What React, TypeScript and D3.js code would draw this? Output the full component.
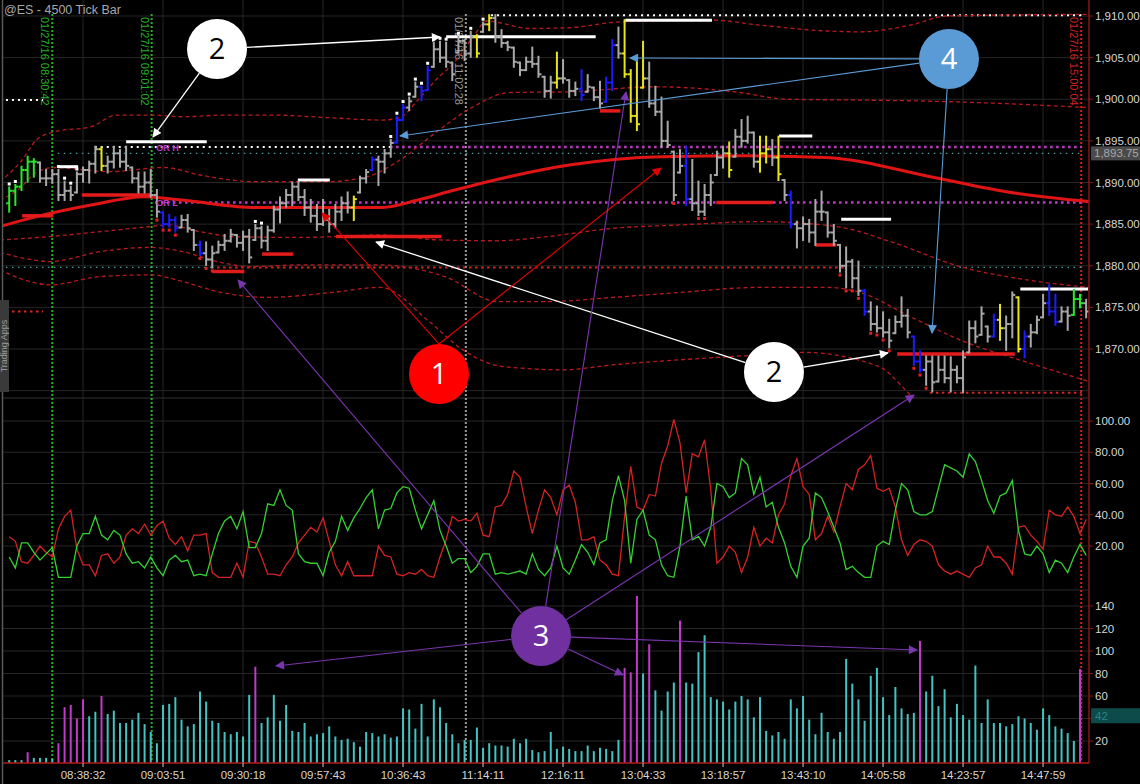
import React from "react";
import * as d3 from "d3";

// ---------- price bars (4500 tick bars) ----------
const barHigh = [
  1889.4, 1889.7, 1891.9, 1893.1, 1892.8, 1892.4, 1891.5, 1891.5, 1891.5, 1890.1,
  1889.5, 1891.2, 1891.8, 1892.5, 1894.3, 1894.2, 1893.1, 1894.3, 1893.9, 1894.3,
  1891.8, 1891.2, 1891.2, 1891.5, 1889.1, 1886.4, 1886.1, 1885.8, 1886.0, 1886.1,
  1884.3, 1882.9, 1882.8, 1882.3, 1882.9, 1883.7, 1884.3, 1883.7, 1884.1, 1884.3,
  1884.9, 1884.7, 1884.7, 1887.1, 1888.2, 1889.1, 1890.0, 1890.1, 1889.1, 1887.9,
  1887.3, 1887.9, 1886.7, 1887.3, 1888.2, 1888.8, 1888.3, 1890.7, 1891.5, 1893.0,
  1893.1, 1893.9, 1895.1, 1897.9, 1899.3, 1900.2, 1902.0, 1901.5, 1903.9, 1906.8,
  1906.9, 1906.8, 1904.4, 1907.5, 1907.1, 1908.1, 1907.7, 1909.2, 1910.1, 1910.1,
  1908.3, 1906.9, 1906.2, 1904.4, 1905.0, 1906.2, 1905.1, 1902.7, 1902.7, 1905.6,
  1904.7, 1902.3, 1902.0, 1903.5, 1902.9, 1901.4, 1902.1, 1902.6, 1907.1, 1908.6,
  1909.5, 1903.5, 1904.7, 1906.9, 1904.4, 1901.5, 1900.2, 1897.3, 1893.7, 1893.9,
  1894.3, 1892.7, 1890.1, 1889.7, 1890.9, 1893.7, 1894.3, 1894.8, 1896.3, 1897.5,
  1897.9, 1896.0, 1895.5, 1895.5, 1895.1, 1895.5, 1890.3, 1888.9, 1885.3, 1885.8,
  1885.5, 1887.9, 1888.9, 1886.4, 1884.9, 1882.5, 1882.2, 1880.7, 1880.5, 1877.1,
  1875.6, 1875.1, 1874.4, 1873.5, 1873.9, 1876.2, 1874.7, 1871.5, 1869.7, 1869.1,
  1869.1, 1869.1, 1869.1, 1869.0, 1867.9, 1869.7, 1873.3, 1873.3, 1875.0, 1872.7,
  1874.1, 1875.3, 1873.9, 1876.8, 1876.2, 1872.1, 1872.9, 1873.9, 1876.5, 1877.7,
  1876.5, 1875.0, 1875.0, 1877.1, 1876.5, 1875.9,
];
const barLow = [
  1886.5, 1887.3, 1889.1, 1890.1, 1890.7, 1890.1, 1889.7, 1890.0, 1887.9, 1887.9,
  1887.9, 1888.8, 1890.1, 1890.0, 1891.2, 1891.5, 1891.2, 1891.8, 1891.9, 1891.5,
  1890.0, 1888.8, 1888.8, 1888.3, 1885.9, 1884.7, 1884.7, 1884.1, 1884.6, 1884.1,
  1881.9, 1881.3, 1880.1, 1879.8, 1881.6, 1881.9, 1882.9, 1882.3, 1881.9, 1880.4,
  1883.1, 1882.2, 1881.9, 1884.1, 1885.2, 1887.1, 1887.3, 1887.9, 1886.1, 1885.3,
  1884.3, 1884.9, 1884.1, 1884.6, 1885.5, 1886.4, 1885.5, 1888.8, 1890.0, 1891.5,
  1889.7, 1891.2, 1893.1, 1894.8, 1897.5, 1898.7, 1900.3, 1899.9, 1901.1, 1903.9,
  1904.5, 1903.9, 1902.3, 1905.6, 1904.7, 1905.1, 1905.1, 1908.1, 1908.3, 1906.9,
  1906.3, 1905.9, 1903.9, 1902.9, 1903.5, 1903.9, 1902.7, 1900.3, 1900.2, 1901.4,
  1902.0, 1900.3, 1900.5, 1899.9, 1900.9, 1899.9, 1899.0, 1899.7, 1901.1, 1905.0,
  1902.7, 1897.3, 1896.3, 1901.4, 1899.1, 1898.1, 1894.3, 1894.3, 1887.9, 1891.2,
  1887.3, 1886.7, 1886.1, 1886.1, 1887.3, 1890.9, 1891.8, 1890.7, 1893.1, 1894.3,
  1894.8, 1891.9, 1891.3, 1892.4, 1892.1, 1890.3, 1887.9, 1884.6, 1882.2, 1883.1,
  1882.9, 1882.5, 1885.5, 1883.5, 1882.5, 1879.3, 1877.4, 1877.4, 1876.5, 1874.1,
  1872.3, 1872.1, 1871.5, 1870.2, 1871.9, 1872.7, 1871.4, 1868.1, 1867.3, 1865.7,
  1864.9, 1866.1, 1866.0, 1864.9, 1866.0, 1864.8, 1869.6, 1870.8, 1871.7, 1870.9,
  1871.5, 1871.1, 1869.9, 1871.4, 1869.7, 1869.0, 1870.3, 1871.9, 1873.8, 1874.1,
  1872.9, 1873.3, 1872.3, 1874.1, 1875.0, 1873.8,
];
const barClose = [
  1889.0, 1889.5, 1891.5, 1892.5, 1892.5, 1890.5, 1890.5, 1891.0, 1888.5, 1889.0,
  1888.5, 1891.0, 1891.5, 1892.25, 1894.0, 1892.0, 1892.5, 1893.5, 1892.5, 1892.0,
  1890.5, 1889.5, 1890.0, 1888.5, 1886.5, 1885.0, 1885.5, 1884.5, 1885.5, 1884.5,
  1882.5, 1881.5, 1880.75, 1881.5, 1882.5, 1883.0, 1883.75, 1882.75, 1883.5, 1881.0,
  1884.5, 1883.0, 1884.25, 1886.75, 1887.5, 1888.5, 1889.5, 1888.25, 1887.0, 1886.0,
  1885.0, 1885.5, 1885.0, 1886.5, 1887.5, 1887.0, 1888.0, 1890.5, 1891.25, 1892.75,
  1892.5, 1893.5, 1894.75, 1897.5, 1899.0, 1899.75, 1901.5, 1901.0, 1903.5, 1906.0,
  1905.0, 1904.5, 1903.0, 1907.0, 1905.5, 1907.5, 1905.5, 1909.0, 1909.75, 1907.5,
  1906.75, 1906.25, 1904.5, 1903.5, 1904.5, 1904.25, 1903.0, 1901.0, 1902.0, 1902.5,
  1902.5, 1901.0, 1901.25, 1900.5, 1901.5, 1900.25, 1899.5, 1902.0, 1906.5, 1905.5,
  1903.0, 1898.0, 1897.0, 1902.5, 1899.5, 1898.5, 1895.0, 1894.5, 1888.5, 1892.0,
  1888.0, 1887.5, 1886.5, 1888.5, 1890.0, 1893.0, 1893.5, 1891.5, 1895.5, 1895.0,
  1896.0, 1892.5, 1893.5, 1894.0, 1893.0, 1891.0, 1888.5, 1885.0, 1884.5, 1885.0,
  1884.0, 1886.5, 1886.5, 1884.0, 1883.0, 1880.0, 1880.5, 1878.5, 1877.0, 1874.5,
  1873.0, 1872.5, 1872.0, 1871.0, 1873.25, 1874.0, 1872.0, 1868.5, 1867.5, 1868.5,
  1866.0, 1867.5, 1866.5, 1867.5, 1866.5, 1869.0, 1872.5, 1871.5, 1874.25, 1871.5,
  1873.5, 1872.5, 1873.0, 1876.5, 1870.0, 1871.5, 1872.0, 1873.5, 1875.5, 1874.5,
  1873.25, 1874.5, 1874.0, 1876.0, 1875.5, 1874.5,
];
const firstOpen = 1887.5;
const greenBars = [0, 1, 2, 3, 4, 173, 174];
const yellowBars = [15, 56, 76, 78, 89, 100, 101, 102, 103, 117, 122, 123, 125, 161, 164];
const blueBars = [25, 26, 27, 31, 59, 63, 64, 67, 68, 93, 97, 98, 110, 127, 139, 147, 148, 160, 165, 169, 170];
const whiteDotBars = [0, 1, 8, 9, 10, 11, 40, 41, 62, 63, 64, 65, 66, 67, 68, 69, 70, 71, 73, 75, 77];
const redDotBars = [24, 25, 26, 27, 31, 32, 33, 108, 112, 113, 135, 136, 137, 138, 140, 141, 142, 143, 147, 148, 149];

// ---------- oscillator ----------
const oscGreen = [
  13, 6, 22, 22, 16, 11, 15, 19, 0, 0,
  0, 20, 28, 28, 39, 27, 24, 30, 27, 15,
  9, 10, 6, 13, 6, 1, 11, 14, 10, 11,
  1, 2, 1, 15, 28, 36, 39, 31, 42, 19,
  19, 28, 47, 46, 56, 46, 43, 15, 10, 9,
  9, 1, 16, 23, 39, 30, 38, 44, 51, 56,
  31, 43, 44, 54, 58, 57, 43, 31, 40, 49,
  30, 20, 9, 12, 12, 3, 7, 15, 15, 2,
  3, 2, 3, 4, 2, 15, 5, 1, 6, 20,
  6, 2, 11, 21, 16, 8, 22, 24, 49, 65,
  49, 9, 37, 43, 27, 24, 8, 1, 0, 20,
  52, 24, 26, 20, 32, 60, 58, 51, 54, 76,
  72, 53, 64, 45, 48, 32, 22, 7, 0, 20,
  25, 54, 51, 42, 32, 22, 5, 7, 3, 0,
  0, 20, 23, 21, 43, 60, 56, 42, 40, 40,
  42, 57, 72, 70, 68, 64, 79, 74, 62, 49,
  41, 52, 54, 62, 30, 15, 14, 20, 15, 3,
  11, 9, 3, 13, 21, 14,
];
const oscRed = [
  26, 23, 10, 9, 14, 20, 16, 13, 31, 39,
  43, 18, 8, 8, 1, 14, 15, 9, 13, 27,
  31, 28, 34, 27, 33, 36, 25, 21, 26, 17,
  27, 27, 28, 3, 0, 0, 0, 9, 0, 23,
  22, 13, 2, 2, 1, 8, 13, 22, 27, 32,
  29, 38, 23, 8, 1, 10, 1, 1, 1, 1,
  20, 14, 13, 2, 1, 3, 2, 5, 1, 0,
  13, 24, 39, 36, 37, 36, 41, 27, 26, 45,
  46, 53, 68, 64, 45, 28, 43, 56, 51, 40,
  56, 59, 48, 24, 24, 26, 11, 8, 2, 1,
  39, 71, 45, 43, 53, 52, 73, 84, 101, 86,
  54, 79, 77, 88, 56, 9, 13, 20, 16, 3,
  13, 32, 20, 25, 22, 40, 47, 65, 76, 58,
  53, 24, 28, 39, 29, 45, 60, 56, 69, 72,
  78, 57, 55, 57, 45, 24, 14, 21, 24, 23,
  20, 8, 4, 2, 4, 2, 0, 6, 8, 20,
  13, 13, 9, 2, 32, 33, 27, 23, 18, 43,
  40, 39, 45, 39, 28, 37,
];

// ---------- volume ----------
const volume = [
  3, 3, 3, 10, 5, 5, 5, 4, 18, 50,
  52, 40, 57, 42, 46, 60, 44, 47, 36, 36,
  39, 45, 35, 28, 18, 52, 53, 59, 39, 33,
  35, 64, 55, 38, 36, 28, 26, 28, 24, 61,
  86, 36, 41, 61, 38, 52, 29, 28, 36, 24,
  26, 27, 33, 24, 21, 22, 19, 15, 28, 27,
  24, 26, 23, 24, 49, 48, 31, 53, 24, 57,
  50, 36, 26, 18, 21, 21, 32, 14, 18, 16,
  16, 15, 22, 18, 22, 12, 10, 11, 28, 13,
  15, 13, 11, 11, 16, 11, 14, 13, 11, 21,
  85, 81, 149, 80, 106, 65, 47, 64, 72, 127,
  72, 71, 99, 114, 59, 57, 55, 48, 55, 60,
  57, 41, 59, 29, 25, 28, 22, 57, 49, 60,
  39, 26, 45, 28, 22, 28, 93, 71, 57, 38,
  78, 85, 59, 43, 68, 49, 44, 45, 109, 64,
  78, 51, 66, 41, 53, 43, 39, 87, 36, 57,
  36, 36, 33, 35, 42, 40, 36, 30, 49, 43,
  33, 31, 27, 20, 84, 0,
];
const magentaVolBars = [3, 8, 9, 10, 11, 12, 15, 40, 100, 101, 102, 104, 109, 148, 174];

// ---------- axes ----------
const timeLabelBars = [12, 25, 38, 51, 64, 77, 90, 103, 116, 129, 142, 155, 168];
const timeLabels = ["08:38:32", "09:03:51", "09:30:18", "09:57:43", "10:36:43", "11:14:11", "12:16:11", "13:04:33", "13:18:57", "13:43:10", "14:05:58", "14:23:57", "14:47:59"];
const priceTicks = [1870, 1875, 1880, 1885, 1890, 1895, 1900, 1905, 1910];
const oscTicks = [20, 40, 60, 80, 100];
const volTicks = [20, 40, 60, 80, 100, 120, 140];
const lastPrice = 1893.75;
const lastPriceLevel = 1893.5;
const lastVolume = 42;

// ---------- indicator bands: [bar index, price] ----------
const maLine = [[-1.5, 1884.7], [4.4, 1885.9], [13.3, 1887.3], [22, 1888.3], [28, 1887.9], [40, 1887.0], [51.6, 1887.0], [60.6, 1887.0], [66.4, 1887.9], [72.4, 1889.1], [81.2, 1890.7], [91, 1892.1], [106, 1893.1], [120, 1893.2], [132.6, 1893.0], [150.3, 1890.6], [162, 1888.9], [175.5, 1887.7]];
const bandUpperOuter = [[-1.5, 1890.1], [2.1, 1892.7], [4.4, 1895.1], [7.4, 1896.1], [13.3, 1896.7], [17.4, 1898.1], [23.4, 1898.1], [28.1, 1897.9], [35.1, 1898.1], [42.9, 1898.1], [51.6, 1897.8], [60.6, 1897.5], [63.5, 1897.8], [66.4, 1899.9], [69.3, 1902.3], [72.4, 1904.5], [75.4, 1907.5], [77.6, 1909.4], [84.6, 1908.5], [91.1, 1908.6], [99.3, 1909.3], [114.4, 1909.5], [122, 1908.9], [132.9, 1908.2], [138.2, 1908.1], [146.4, 1908.9], [152.4, 1910.0], [175.5, 1910.2]];
const bandUpperInner = [[-1.5, 1887.9], [1.4, 1889.1], [4.4, 1891.2], [7.4, 1891.8], [16.2, 1891.3], [25.2, 1891.8], [31, 1890.9], [39.9, 1890.1], [51.6, 1890.1], [57.7, 1890.6], [63.5, 1892.7], [69.3, 1896.0], [75.4, 1899.1], [81.2, 1900.8], [91.1, 1900.9], [104.8, 1901.5], [117.8, 1900.9], [126.5, 1900.0], [138.4, 1899.9], [153.2, 1899.7], [175.5, 1899.0]];
const bandLower1 = [[-1.5, 1883.1], [6.6, 1883.5], [14.8, 1884.1], [22.9, 1884.7], [25.6, 1884.9], [31, 1884.1], [36.4, 1883.5], [47.3, 1883.4], [60.3, 1883.7], [70, 1883.1], [79.3, 1883.0], [87.4, 1883.5], [98.1, 1884.5], [109, 1884.9], [122, 1885.3], [134.5, 1884.7], [143.6, 1882.8], [154.5, 1879.9], [165.4, 1878.3], [175.5, 1877.4]];
const bandLower2 = [[-1.5, 1881.6], [3.9, 1880.7], [6.6, 1880.5], [14.8, 1881.7], [22.9, 1882.2], [28.2, 1881.7], [33.8, 1880.5], [39.1, 1879.9], [47.3, 1880.1], [60.3, 1880.1], [71.1, 1878.6], [79.3, 1875.7], [87.4, 1875.7], [98.1, 1876.2], [109, 1876.8], [122, 1877.4], [132.9, 1877.4], [138.2, 1876.8], [146.4, 1873.9], [154.5, 1871.1], [165.4, 1868.4], [175.5, 1866.1]];
const bandLower3 = [[-1.5, 1879.5], [3.9, 1878.0], [6.6, 1877.7], [14.8, 1878.7], [22.9, 1878.9], [28.2, 1878.1], [33.8, 1876.9], [41.9, 1876.2], [52.6, 1876.8], [60.3, 1877.4], [68.4, 1873.2], [73.7, 1869.9], [80.2, 1867.9], [90, 1867.5], [98.1, 1868.1], [109, 1868.7], [122, 1869.3], [129, 1869.6], [141.3, 1867.9], [146.7, 1864.3], [151.3, 1861.5]];

// ---------- horizontal levels: [fromIdx, toIdx, price] ----------
const whiteLevels = [[7.9, 11.2, 1891.9], [19, 32.1, 1894.9], [46.9, 52.1, 1890.3], [71, 95.3, 1907.5], [100.1, 114.2, 1909.5], [125.1, 130.5, 1895.6], [135.2, 143.3, 1885.6], [164.3, 175.3, 1877.2]];
const redLevels = [[2.1, 7.1, 1886.0], [11.8, 22.9, 1888.5], [33, 38.2, 1879.3], [41.1, 46.1, 1881.4], [53.1, 70.2, 1883.5], [96, 99.3, 1898.6], [114.9, 124.1, 1887.6], [131, 134.4, 1882.5], [144.3, 163.4, 1869.4]];
// dotted reference lines: [fromIdx, toIdx, price, kind]
const dottedLevels = [
  [-1.5, 5.5, 1899.9, "white"],
  [13.9, 61.9, 1894.25, "white"],
  [61.9, 174.3, 1894.25, "magenta"],
  [7.9, 174.3, lastPriceLevel, "teal"],
  [23.7, 174.3, 1887.6, "magenta"],
  [-1.5, 32.8, 1879.8, "teal"],
  [32.8, 135.9, 1879.8, "red"],
  [135.9, 174.3, 1879.8, "teal"],
  [-1.5, 5.5, 1874.5, "red"],
  [149.6, 174.3, 1864.75, "red"],
  [78.3, 174.8, 1910.1, "white"],
];
const sessionLines = [
  { idx: 7, color: "#23b023", label: "01/27/16 08:30:42" },
  { idx: 23.15, color: "#23b023", label: "01/27/16 09:01:02" },
  { idx: 74.2, color: "#9a9a9a", label: "01/27/16 11:02:28" },
  { idx: 174.2, color: "#d42020", label: "01/27/16 15:00:04" },
];

// ---------- callouts ----------
const callouts = [
  { id: "2a", label: "2", panel: "p", idx: 33.77, v: 1906.04, fill: "#ffffff", text: "#000000" },
  { id: "2b", label: "2", panel: "p", idx: 124.27, v: 1867.24, fill: "#ffffff", text: "#000000" },
  { id: "1", label: "1", panel: "p", idx: 69.84, v: 1867.0, fill: "#ff0000", text: "#ffffff" },
  { id: "3", label: "3", panel: "v", idx: 86.42, v: 113.3, fill: "#7030a0", text: "#ffffff" },
  { id: "4", label: "4", panel: "p", idx: 152.71, v: 1904.84, fill: "#5b9bd5", text: "#ffffff" },
];
const arrows = [
  { from: "2a", panel: "p", idx: 70.0, v: 1907.48, color: "#ffffff", top: false },
  { from: "2a", panel: "p", idx: 23.37, v: 1895.47, color: "#ffffff", top: false },
  { from: "2b", panel: "p", idx: 59.6, v: 1882.85, color: "#ffffff", top: false },
  { from: "2b", panel: "p", idx: 142.8, v: 1869.52, color: "#ffffff", top: false },
  { from: "1", panel: "p", idx: 50.83, v: 1886.34, color: "#e00000", top: true },
  { from: "1", panel: "p", idx: 105.9, v: 1891.74, color: "#e00000", top: true },
  { from: "3", panel: "p", idx: 37.18, v: 1878.29, color: "#7a35b0", top: false },
  { from: "3", panel: "p", idx: 100.23, v: 1900.87, color: "#7a35b0", top: false },
  { from: "3", panel: "p", idx: 147.03, v: 1864.47, color: "#7a35b0", top: false },
  { from: "3", panel: "v", idx: 43.35, v: 86.7, color: "#7a35b0", top: false },
  { from: "3", panel: "v", idx: 99.74, v: 78.7, color: "#7a35b0", top: false },
  { from: "3", panel: "v", idx: 147.51, v: 100.9, color: "#7a35b0", top: false },
  { from: "4", panel: "p", idx: 100.88, v: 1904.95, color: "#5b9bd5", top: false },
  { from: "4", panel: "p", idx: 63.5, v: 1895.59, color: "#5b9bd5", top: false },
  { from: "4", panel: "p", idx: 149.95, v: 1871.92, color: "#5b9bd5", top: false },
];

const FONT = "'Liberation Sans', Arial, sans-serif";

export default function App() {
  const xs = d3.scaleLinear().domain([0, 175]).range([9.2, 1086.15]);
  const yp = d3.scaleLinear().domain([1870, 1910]).range([349, 16]);
  const yo = d3.scaleLinear().domain([0, 100]).range([577.3, 421]);
  const yv = d3.scaleLinear().domain([0, 140]).range([763.5, 606]);
  const AXIS_X = 1089;
  const PRICE_BOTTOM = 398;
  const OSC_BOTTOM = 590;
  const VOL_BOTTOM = 763;

  const band = d3.line<number[]>().x((d) => xs(d[0])).y((d) => yp(d[1])).curve(d3.curveMonotoneX);
  const oscLine = d3.line<number>().x((_, i) => xs(i)).y((d) => yo(d));

  const colorOf = (i: number) =>
    greenBars.includes(i) ? "#2be62b" : yellowBars.includes(i) ? "#e8e41a" : blueBars.includes(i) ? "#1c1cff" : "#a9a9a9";

  const pos = (panel: string, idx: number, v: number) => [xs(idx), panel === "p" ? yp(v) : panel === "o" ? yo(v) : yv(v)];
  const R = 30;
  const center: Record<string, number[]> = {};
  callouts.forEach((c) => (center[c.id] = pos(c.panel, c.idx, c.v)));

  const dotStyle: Record<string, any> = {
    white: { stroke: "#ffffff", dash: "2,4", w: 2 },
    magenta: { stroke: "#c23ac8", dash: "2.5,3.5", w: 2.5 },
    teal: { stroke: "#4f9a9a", dash: "1.5,4.5", w: 1.2 },
    red: { stroke: "#d42424", dash: "2.5,3.5", w: 2 },
  };
  const markerColors = { w: "#ffffff", r: "#e00000", p: "#7a35b0", b: "#5b9bd5" };
  const markerId = (c: string) => (c === "#ffffff" ? "mw" : c === "#e00000" ? "mr" : c === "#7a35b0" ? "mp" : "mb");

  return (
    <div>
      <style>{"body{margin:0;background:#000;}"}</style>
      <svg width={1140} height={784} style={{ display: "block", background: "#000" }} fontFamily={FONT}>
        <defs>
          <clipPath id="cp"><rect x={3} y={0} width={AXIS_X - 3} height={PRICE_BOTTOM} /></clipPath>
          <clipPath id="co"><rect x={3} y={PRICE_BOTTOM} width={AXIS_X - 3} height={OSC_BOTTOM - PRICE_BOTTOM} /></clipPath>
          <clipPath id="cv"><rect x={3} y={OSC_BOTTOM} width={AXIS_X - 3} height={VOL_BOTTOM - OSC_BOTTOM} /></clipPath>
          {Object.entries(markerColors).map(([k, c]) => (
            <marker key={k} id={"m" + k} viewBox="0 0 10 10" refX={9} refY={5} markerWidth={11} markerHeight={9} orient="auto" markerUnits="userSpaceOnUse">
              <path d="M0,0 L10,5 L0,10 z" fill={c} />
            </marker>
          ))}
        </defs>
        <rect x={0} y={0} width={1140} height={784} fill="#000" />

        {/* grid */}
        <g stroke="#262626" strokeWidth={1}>
          {priceTicks.map((p) => <line key={"gp" + p} x1={3} x2={AXIS_X} y1={yp(p)} y2={yp(p)} />)}
          <line x1={3} x2={AXIS_X} y1={yp(1865)} y2={yp(1865)} />
          {oscTicks.map((t) => <line key={"go" + t} x1={3} x2={AXIS_X} y1={yo(t)} y2={yo(t)} />)}
          {volTicks.map((t) => <line key={"gv" + t} x1={3} x2={AXIS_X} y1={yv(t)} y2={yv(t)} />)}
          {timeLabelBars.map((b) => <line key={"gx" + b} x1={xs(b)} x2={xs(b)} y1={0} y2={VOL_BOTTOM} />)}
        </g>
        <line x1={3} x2={AXIS_X} y1={PRICE_BOTTOM} y2={PRICE_BOTTOM} stroke="#333" />
        <line x1={3} x2={AXIS_X} y1={OSC_BOTTOM} y2={OSC_BOTTOM} stroke="#2a2a2a" />
        <line x1={2.5} x2={2.5} y1={0} y2={784} stroke="#5a5a5a" strokeWidth={1.5} />

        {/* session lines */}
        {sessionLines.map((s, i) => (
          <g key={"s" + i}>
            <line x1={xs(s.idx)} x2={xs(s.idx)} y1={14} y2={VOL_BOTTOM - 2} stroke={s.color} strokeWidth={2} strokeDasharray="2,2" />
            <text transform={`translate(${xs(s.idx) - 11},17) rotate(90)`} fontSize={11} fill={s.color}>{s.label}</text>
          </g>
        ))}

        {/* price panel */}
        <g clipPath="url(#cp)">
          {dottedLevels.map((d, i) => {
            const st = dotStyle[d[3] as string];
            return <line key={"dl" + i} x1={xs(d[0] as number)} x2={xs(d[1] as number)} y1={yp(d[2] as number)} y2={yp(d[2] as number)} stroke={st.stroke} strokeWidth={st.w} strokeDasharray={st.dash} />;
          })}
          {[bandUpperOuter, bandUpperInner, bandLower1, bandLower2, bandLower3].map((b, i) => (
            <path key={"b" + i} d={band(b) || ""} fill="none" stroke="#b81a1e" strokeWidth={1.3} strokeDasharray="4,3" />
          ))}
          <path d={band(maLine) || ""} fill="none" stroke="#e01414" strokeWidth={3} />
          {redLevels.map((l, i) => <line key={"rl" + i} x1={xs(l[0])} x2={xs(l[1])} y1={yp(l[2])} y2={yp(l[2])} stroke="#e31b1b" strokeWidth={3.5} />)}
          {whiteLevels.map((l, i) => <line key={"wl" + i} x1={xs(l[0])} x2={xs(l[1])} y1={yp(l[2])} y2={yp(l[2])} stroke="#ffffff" strokeWidth={3} />)}
          {barHigh.map((h, i) => {
            const x = xs(i);
            const c = colorOf(i);
            const lo = barLow[i];
            const o0 = i === 0 ? firstOpen : barClose[i - 1];
            const o = Math.max(lo, Math.min(h, o0));
            return (
              <g key={"bar" + i} stroke={c} strokeWidth={2}>
                <line x1={x} x2={x} y1={yp(h) - 1} y2={yp(lo) + 1} />
                <line x1={x - 3} x2={x} y1={yp(o)} y2={yp(o)} />
                <line x1={x} x2={x + 3} y1={yp(barClose[i])} y2={yp(barClose[i])} />
              </g>
            );
          })}
          {whiteDotBars.map((i) => <rect key={"wd" + i} x={xs(i) - 1.5} y={yp(barHigh[i]) - 5} width={3} height={3} fill="#fff" />)}
          {redDotBars.map((i) => <rect key={"rd" + i} x={xs(i) - 1.5} y={yp(barLow[i]) + 2} width={3} height={3} fill="#e02020" />)}
          <text x={xs(23.9)} y={yp(1894.25) + 4} fontSize={9} fontWeight="bold" fill="#c23ac8">OR H</text>
          <text x={xs(23.9)} y={yp(1887.6) + 4} fontSize={9} fontWeight="bold" fill="#c23ac8">OR L</text>
        </g>

        {/* oscillator panel */}
        <g clipPath="url(#co)" fill="none" strokeWidth={1.3}>
          <path d={oscLine(oscRed) || ""} stroke="#d42222" />
          <path d={oscLine(oscGreen) || ""} stroke="#35d135" />
        </g>

        {/* volume panel */}
        <g clipPath="url(#cv)">
          {volume.map((v, i) => (
            <line key={"v" + i} x1={xs(i)} x2={xs(i)} y1={yv(0)} y2={yv(v)} stroke={magentaVolBars.includes(i) ? "#c23ac8" : "#43c3c3"} strokeWidth={2} />
          ))}
        </g>

        {/* axes */}
        <line x1={AXIS_X} x2={AXIS_X} y1={0} y2={VOL_BOTTOM} stroke="#8a1616" strokeWidth={1.5} />
        <line x1={3} x2={AXIS_X} y1={VOL_BOTTOM} y2={VOL_BOTTOM} stroke="#b51a1a" strokeWidth={1.5} />
        <g fontSize={11.5} fill="#d6d6d6">
          {priceTicks.map((p) => (
            <g key={"tp" + p}>
              <line x1={AXIS_X} x2={AXIS_X + 4} y1={yp(p)} y2={yp(p)} stroke="#8a1616" />
              <text x={1095} y={yp(p) + 4}>{d3.format(",.2f")(p)}</text>
            </g>
          ))}
          {oscTicks.map((t) => (
            <g key={"to" + t}>
              <line x1={AXIS_X} x2={AXIS_X + 4} y1={yo(t)} y2={yo(t)} stroke="#8a1616" />
              <text x={1095} y={yo(t) + 4}>{d3.format(".2f")(t)}</text>
            </g>
          ))}
          {volTicks.map((t) => (
            <g key={"tv" + t}>
              <line x1={AXIS_X} x2={AXIS_X + 4} y1={yv(t)} y2={yv(t)} stroke="#8a1616" />
              <text x={1095} y={yv(t) + 4}>{t}</text>
            </g>
          ))}
          {timeLabelBars.map((b, i) => (
            <g key={"tx" + b}>
              <line x1={xs(b)} x2={xs(b)} y1={VOL_BOTTOM} y2={VOL_BOTTOM + 4} stroke="#cfcfcf" />
              <text x={xs(b)} y={779} textAnchor="middle">{timeLabels[i]}</text>
            </g>
          ))}
        </g>
        <rect x={1091} y={yp(lastPriceLevel) - 7} width={49} height={14} fill="#4a4a4a" />
        <text x={1094} y={yp(lastPriceLevel) + 4} fontSize={11.5} fill="#a8a8a8">{d3.format(",.2f")(lastPrice)}</text>
        <rect x={1091} y={yv(lastVolume) - 8} width={49} height={15} fill="#0d4a4a" />
        <text x={1095} y={yv(lastVolume) + 4} fontSize={11.5} fill="#2a8585">{lastVolume}</text>

        {/* title and side tab */}
        <text x={4} y={14} fontSize={12.5} fill="#a8a8a8">@ES - 4500 Tick Bar</text>
        <rect x={0} y={300} width={9} height={92} fill="#3a3a3a" />
        <text transform="translate(7,346) rotate(-90)" textAnchor="middle" fontSize={9} fill="#9a9a9a">Trading Apps</text>

        {/* callout arrows */}
        {arrows.map((a, i) => {
          const c = center[a.from];
          const t = pos(a.panel, a.idx, a.v);
          let s: number[];
          if (a.top) s = [c[0], c[1] - R];
          else {
            const dx = t[0] - c[0], dy = t[1] - c[1];
            const L = Math.hypot(dx, dy);
            s = [c[0] + (dx / L) * R, c[1] + (dy / L) * R];
          }
          return <line key={"ar" + i} x1={s[0]} y1={s[1]} x2={t[0]} y2={t[1]} stroke={a.color} strokeWidth={a.color === "#ffffff" ? 1.3 : 1.1} markerEnd={`url(#${markerId(a.color)})`} />;
        })}
        {callouts.map((c) => {
          const p = center[c.id];
          return (
            <g key={"c" + c.id}>
              <circle cx={p[0]} cy={p[1]} r={R} fill={c.fill} />
              <text x={p[0]} y={p[1] + 10} textAnchor="middle" fontSize={29} fontFamily="'Open Sans', 'Liberation Sans', sans-serif" fill={c.text}>{c.label}</text>
            </g>
          );
        })}
      </svg>
    </div>
  );
}
